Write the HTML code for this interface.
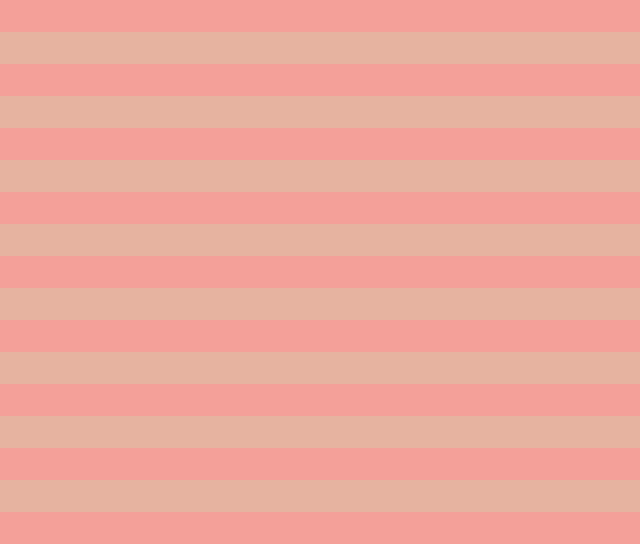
<!DOCTYPE html>
<html>
<head>
<meta charset="utf-8">
<style>
  html, body { margin: 0; padding: 0; }
  body { width: 640px; height: 544px; overflow: hidden; }
  .stripes {
    width: 640px; height: 544px;
    background: repeating-linear-gradient(to bottom,
      #F4A099 0px, #F4A099 32px,
      #E6B3A0 32px, #E6B3A0 64px);
  }
</style>
</head>
<body>
  <div class="stripes"></div>
</body>
</html>
